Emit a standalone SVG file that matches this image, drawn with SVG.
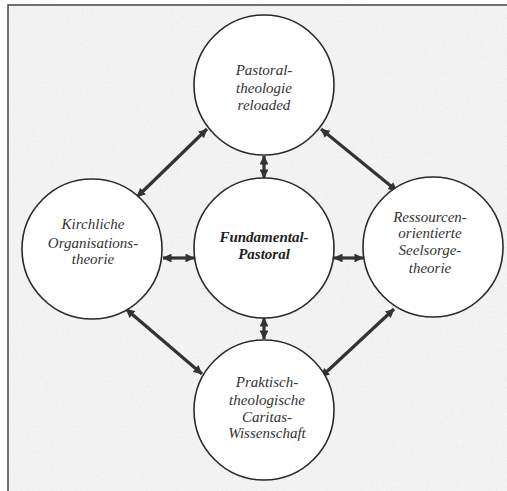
<svg xmlns="http://www.w3.org/2000/svg" width="507" height="491" viewBox="0 0 507 491">
<defs>
<style>
.node circle{fill:#fff;stroke:#2a2a2a;stroke-width:1.6}
.node text{font-family:"Liberation Serif","Times New Roman",serif;font-style:italic;font-size:15px;fill:#333;text-anchor:middle}
.node text.b{font-weight:bold;fill:#222}
.conn line{stroke:#333;stroke-width:3.2;marker-start:url(#ah);marker-end:url(#ah)}
</style>
<marker id="ah" viewBox="0 0 10 10" refX="9.5" refY="5" markerWidth="2.8" markerHeight="2.8" orient="auto-start-reverse" markerUnits="strokeWidth">
<path d="M0,0 L10,5 L0,10 z" fill="#333"/>
</marker>
<filter id="noise" x="0" y="0" width="100%" height="100%">
<feTurbulence type="fractalNoise" baseFrequency="1.2" numOctaves="1" seed="3" result="t"/>
<feColorMatrix in="t" type="matrix" values="0 0 0 0 0.6  0 0 0 0 0.6  0 0 0 0 0.6  0 0 0 -3 1.3" result="n"/>
<feComposite in="n" in2="SourceGraphic" operator="in"/>
</filter>
</defs>
<rect x="0" y="0" width="507" height="491" fill="#fff"/>
<rect x="8" y="5" width="499" height="486" fill="#f3f3f3"/>
<rect x="8" y="5" width="499" height="486" fill="#f3f3f3" filter="url(#noise)" opacity="0.35"/>
<path d="M8,491 V5 H507" fill="none" stroke="#444" stroke-width="1.5"/>
<g class="conn">
<line x1="264" y1="156" x2="264" y2="178"/>
<line x1="264" y1="318" x2="264" y2="339"/>
<line x1="163" y1="258" x2="194" y2="258"/>
<line x1="334" y1="258" x2="363" y2="258"/>
<line x1="137" y1="197" x2="207" y2="129"/>
<line x1="321" y1="129" x2="397" y2="191"/>
<line x1="126" y1="309" x2="202" y2="374"/>
<line x1="321" y1="377" x2="394" y2="309"/>
</g>
<g id="pastoraltheologie" class="node">
<circle cx="264" cy="85" r="70"/>
<text x="264" y="75">Pastoral-</text>
<text x="264" y="93">theologie</text>
<text x="264" y="110">reloaded</text>
</g>
<g id="fundamentalpastoral" class="node">
<circle cx="264" cy="248" r="70"/>
<text class="b" x="264" y="242">Fundamental-</text>
<text class="b" x="264" y="259">Pastoral</text>
</g>
<g id="kirchliche" class="node">
<circle cx="92" cy="249" r="70"/>
<text x="93" y="229">Kirchliche</text>
<text x="93" y="248">Organisations-</text>
<text x="93" y="264">theorie</text>
</g>
<g id="ressourcen" class="node">
<circle cx="433" cy="247" r="70"/>
<text x="430" y="222">Ressourcen-</text>
<text x="430" y="238">orientierte</text>
<text x="430" y="255">Seelsorge-</text>
<text x="430" y="273">theorie</text>
</g>
<g id="caritas" class="node">
<circle cx="264" cy="410" r="70"/>
<text x="267" y="387">Praktisch-</text>
<text x="267" y="405">theologische</text>
<text x="267" y="422">Caritas-</text>
<text x="267" y="438">Wissenschaft</text>
</g>
</svg>
